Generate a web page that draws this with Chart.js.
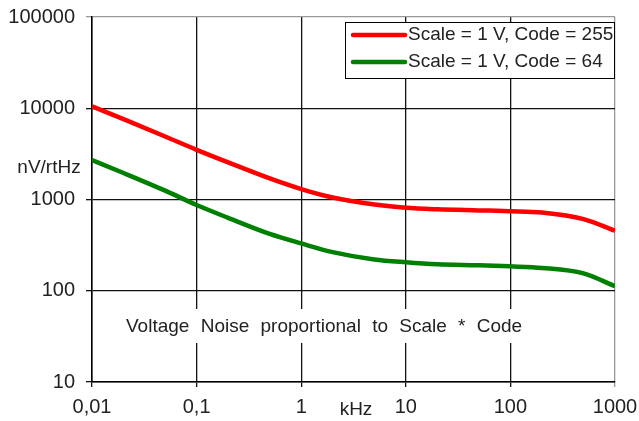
<!DOCTYPE html>
<html>
<head>
<meta charset="utf-8">
<script src="https://cdn.jsdelivr.net/npm/chart.js@4/dist/chart.umd.min.js"></script>
<style>
  html, body { margin: 0; padding: 0; background: #fff; }
  #wrap { width: 639px; height: 421px; }
</style>
</head>
<body>
<div id="wrap"><canvas id="noiseChart" width="639" height="421"></canvas></div>
<script>
// frequency in kHz
var freqs = [0.01, 0.02, 0.05, 0.1, 0.2, 0.5, 1, 2, 5, 10, 20, 50, 100, 200, 500, 1000];
// nV/rtHz
var code255 = [10500, 7600, 4900, 3500, 2550, 1700, 1300, 1050, 880, 810, 780, 760, 745, 720, 610, 455];
var code64 = [2700, 1950, 1250, 870, 630, 420, 330, 265, 220, 205, 195, 190, 185, 178, 155, 112];
var seriesLabels = ['Scale = 1 V, Code = 255', 'Scale = 1 V, Code = 64'];
var xTicks = [0.01, 0.1, 1, 10, 100, 1000];
var xTickLabels = ['0,01', '0,1', '1', '10', '100', '1000'];
var yTicks = [10, 100, 1000, 10000, 100000];
var yTickLabels = ['10', '100', '1000', '10000', '100000'];

var FONT = "'Liberation Sans', Arial, sans-serif";

function pts(vals) {
    return freqs.map(function(f, i) { return { x: f, y: vals[i] }; });
}

var extras = {
    id: 'extras',
    afterDraw: function(chart) {
        var c = chart.ctx;
        c.save();
        c.font = '19px ' + FONT;
        c.textBaseline = 'middle';

        // note inside the plot (wide word gaps like the original)
        c.fillStyle = '#fff';
        c.fillRect(121, 309, 404, 34);
        c.fillStyle = '#222';
        c.textAlign = 'left';
        c.wordSpacing = '6px';
        c.fillText('Voltage Noise proportional to Scale * Code', 126, 327);
        c.wordSpacing = '0px';

        // axis titles
        c.textAlign = 'center';
        c.fillText('nV/rtHz', 49, 168);
        c.fillText('kHz', 356, 410);

        // legend box
        var bx = 345, by = 22, bw = 269, bh = 56;
        c.fillStyle = '#fff';
        c.fillRect(bx, by, bw, bh);
        c.strokeStyle = '#000';
        c.lineWidth = 1;
        c.strokeRect(bx + 0.5, by + 0.5, bw, bh);
        chart.data.datasets.forEach(function(ds, i) {
            var y = 35 + i * 27;
            c.strokeStyle = ds.borderColor;
            c.lineWidth = 4.5;
            c.lineCap = 'round';
            c.beginPath();
            c.moveTo(353, y);
            c.lineTo(405, y);
            c.stroke();
            c.fillStyle = '#222';
            c.textAlign = 'left';
            c.fillText(ds.label, 408, y);
        });
        c.restore();
    }
};

new Chart(document.getElementById('noiseChart').getContext('2d'), {
    type: 'line',
    data: {
        datasets: [{
            label: seriesLabels[0],
            data: pts(code255),
            borderColor: '#ff0000',
            borderWidth: 4.5,
            pointRadius: 0,
            cubicInterpolationMode: 'monotone'
        }, {
            label: seriesLabels[1],
            data: pts(code64),
            borderColor: '#008000',
            borderWidth: 4.5,
            pointRadius: 0,
            cubicInterpolationMode: 'monotone'
        }]
    },
    options: {
        responsive: false,
        animation: false,
        layout: { padding: { top: 17, right: 24, bottom: 0, left: 0 } },
        plugins: {
            legend: { display: false },
            tooltip: { enabled: false }
        },
        scales: {
            x: {
                type: 'logarithmic',
                min: 0.01,
                max: 1000,
                afterBuildTicks: function(s) {
                    s.ticks = xTicks.map(function(v) { return { value: v }; });
                },
                afterFit: function(s) {
                    s.height = 39;
                    s.paddingLeft = 0;
                    s.paddingRight = 0;
                },
                ticks: {
                    autoSkip: false,
                    maxRotation: 0,
                    padding: 8,
                    color: '#222',
                    font: { family: FONT, size: 20 },
                    callback: function(v) {
                        var i = xTicks.indexOf(v);
                        return i >= 0 ? xTickLabels[i] : '';
                    }
                },
                grid: {
                    color: function(ctx) { return ctx.tick && ctx.tick.value === 1000 ? '#999' : '#111'; },
                    lineWidth: 1.3,
                    tickLength: 5
                },
                border: { color: '#000', width: 1.5 }
            },
            y: {
                type: 'logarithmic',
                min: 10,
                max: 100000,
                afterBuildTicks: function(s) {
                    s.ticks = yTicks.map(function(v) { return { value: v }; });
                },
                afterFit: function(s) {
                    s.width = 92;
                    s.paddingTop = 0;
                    s.paddingBottom = 0;
                },
                ticks: {
                    autoSkip: false,
                    padding: 11,
                    color: '#222',
                    font: { family: FONT, size: 20 },
                    callback: function(v) {
                        var i = yTicks.indexOf(v);
                        return i >= 0 ? yTickLabels[i] : '';
                    }
                },
                grid: {
                    color: function(ctx) { return ctx.tick && ctx.tick.value === 100000 ? '#999' : '#111'; },
                    lineWidth: 1.3,
                    tickLength: 6
                },
                border: { color: '#000', width: 1.5 }
            }
        }
    },
    plugins: [extras]
});
</script>
</body>
</html>
